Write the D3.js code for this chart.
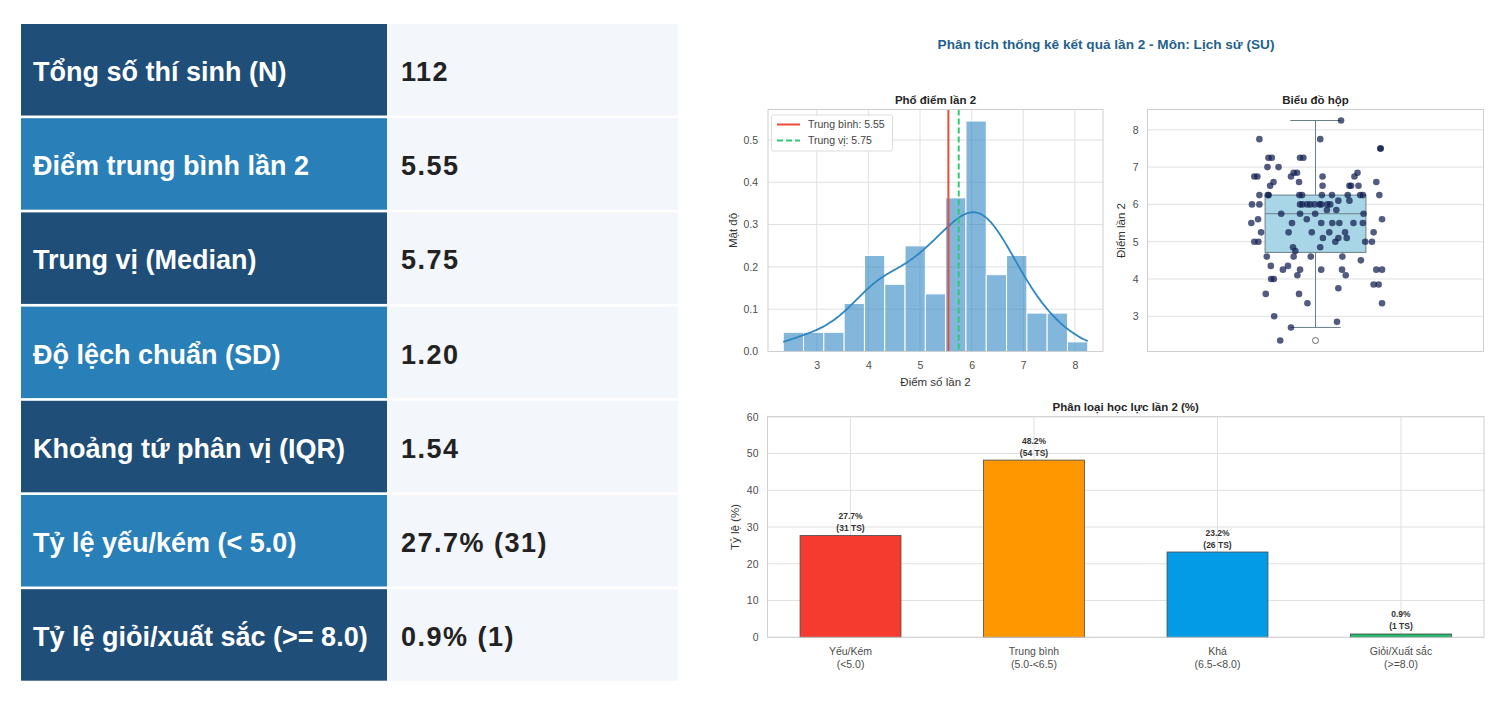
<!doctype html>
<html>
<head>
<meta charset="utf-8">
<script src="https://cdn.jsdelivr.net/npm/d3@7"></script>
<style>
  body { margin: 0; background: #fff; }
  svg { display: block; font-family: "Liberation Sans", Arial, Helvetica, sans-serif; }
</style>
</head>
<body>
<svg id="chart" width="1510" height="704"></svg>
<script>
  // summary table
  var statLabels = [
    'Tổng số thí sinh (N)',
    'Điểm trung bình lần 2',
    'Trung vị (Median)',
    'Độ lệch chuẩn (SD)',
    'Khoảng tứ phân vị (IQR)',
    'Tỷ lệ yếu/kém (< 5.0)',
    'Tỷ lệ giỏi/xuất sắc (>= 8.0)'
  ];
  var statValues = ['112', '5.55', '5.75', '1.20', '1.54', '27.7% (31)', '0.9% (1)'];

  // scores of the 112 candidates
  var scores = [
    2.35, 2.7, 2.85, 3.0, 3.35, 3.35, 3.6, 3.6, 3.75, 3.85, 3.85,
    4.0, 4.0, 4.1, 4.1, 4.25, 4.25, 4.25, 4.25, 4.25, 4.25,
    4.35, 4.35, 4.5, 4.6, 4.6, 4.6, 4.6,
    4.75, 4.85, 4.85, 5.0, 5.0, 5.0, 5.0, 5.0, 5.1, 5.1, 5.1,
    5.25, 5.25, 5.25, 5.25, 5.25, 5.25,
    5.5, 5.5, 5.5, 5.5, 5.5, 5.5, 5.5, 5.6, 5.6, 5.6, 5.75, 5.75, 5.75, 5.75, 5.85, 5.85,
    6.0, 6.0, 6.0, 6.0, 6.0, 6.0, 6.0, 6.0, 6.0, 6.0, 6.0, 6.1, 6.1,
    6.25, 6.25, 6.25, 6.25, 6.25, 6.25, 6.25, 6.25, 6.25, 6.25, 6.25,
    6.5, 6.5, 6.5, 6.5, 6.5, 6.6, 6.6, 6.6,
    6.75, 6.75, 6.75, 6.75, 6.75, 6.85, 6.85, 6.85, 7.0, 7.0,
    7.25, 7.25, 7.25, 7.25, 7.5, 7.5, 7.75, 7.75, 8.25
  ];
  // horizontal jitter of each point in the strip plot (category units)
  var jitter = [
    -0.105, -0.073, 0.064, -0.123, -0.024, 0.198, -0.148, -0.049, 0.068, 0.173, 0.188,
    -0.132, -0.124, -0.054, 0.090, -0.097, -0.046, 0.017, 0.079, 0.181, 0.198,
    -0.133, -0.082, 0.135, -0.145, -0.065, -0.014, 0.080,
    -0.060, -0.067, 0.014, -0.182, -0.170, 0.059, 0.148, 0.168, 0.022, 0.068, 0.093,
    -0.162, -0.080, -0.011, 0.041, 0.088, 0.173,
    -0.191, -0.070, 0.017, 0.050, 0.071, 0.113, 0.141, -0.171, -0.026, 0.198, -0.102, -0.001, 0.143, -0.046, 0.034, 0.062,
    -0.189, -0.167, -0.046, -0.039, -0.016, -0.003, 0.012, 0.017, 0.044, -0.025, 0.035, 0.068, 0.101,
    -0.167, -0.142, -0.139, -0.048, -0.040, 0.019, 0.049, 0.096, 0.133, 0.141, 0.190,
    -0.135, 0.021, 0.101, 0.106, 0.128, -0.125, -0.049, 0.181,
    -0.182, -0.173, -0.073, 0.021, 0.116, -0.055, 0.125, -0.065, -0.143, -0.110,
    -0.140, -0.130, -0.046, -0.036, 0.193, 0.194, -0.167, 0.014, 0.076
  ];
  var meanScore = 5.55;
  var medianScore = 5.75;
  var histBins = 15;

  // grade classes
  var classLabels = [['Yếu/Kém', '(<5.0)'], ['Trung bình', '(5.0-<6.5)'], ['Khá', '(6.5-<8.0)'], ['Giỏi/Xuất sắc', '(>=8.0)']];
  var classPercents = [27.7, 48.2, 23.2, 0.9];
  var classCounts = [31, 54, 26, 1];
  var classColors = ['#f53b30', '#ff9800', '#039be5', '#1fb86a'];

  var svg = d3.select('#chart');
  var GRID = '#e0e0e0', FRAME = '#cfcfcf', TICK = '#4d4d4d', LABEL = '#333';

  // ---------- table ----------
  var rowPitch = 94.2, rowH = 91.5;
  var rows = svg.append('g').selectAll('g').data(statLabels).enter().append('g')
    .attr('transform', function (d, i) { return 'translate(0,' + (24 + i * rowPitch) + ')'; });
  rows.append('rect').attr('x', 21).attr('width', 366).attr('height', rowH)
    .attr('fill', function (d, i) { return i % 2 ? '#2980b9' : '#1f4e79'; });
  rows.append('rect').attr('x', 387).attr('width', 291).attr('height', rowH).attr('fill', '#f3f6fa');
  rows.append('text').attr('x', 33).attr('y', 57).attr('fill', '#fff')
    .style('font-size', '27px').style('font-weight', 'bold').text(function (d) { return d; });
  rows.append('text').attr('x', 401).attr('y', 57).attr('fill', '#222')
    .style('font-size', '27px').style('font-weight', 'bold').style('letter-spacing', '1.5px')
    .text(function (d, i) { return statValues[i]; });

  // ---------- figure title ----------
  svg.append('text').attr('x', 1106).attr('y', 49).attr('text-anchor', 'middle')
    .attr('fill', '#1f618d').style('font-size', '13.6px').style('font-weight', 'bold')
    .text('Phân tích thống kê kết quả lần 2 - Môn: Lịch sử (SU)');

  // shared helpers
  function frame(g, b) {
    g.append('rect').attr('x', b.left).attr('y', b.top)
      .attr('width', b.right - b.left).attr('height', b.bottom - b.top)
      .attr('fill', 'none').attr('stroke', FRAME).attr('stroke-width', 1);
  }
  function hGrid(g, scale, ticks, b) {
    g.append('g').selectAll('line').data(ticks).enter().append('line')
      .attr('x1', b.left).attr('x2', b.right)
      .attr('y1', scale).attr('y2', scale)
      .attr('stroke', GRID).attr('stroke-width', 1);
  }
  function vGrid(g, scale, ticks, b) {
    g.append('g').selectAll('line').data(ticks).enter().append('line')
      .attr('y1', b.top).attr('y2', b.bottom)
      .attr('x1', scale).attr('x2', scale)
      .attr('stroke', GRID).attr('stroke-width', 1);
  }
  function yAxis(g, scale, ticks, fmt, b, pad) {
    g.append('g').attr('transform', 'translate(' + (b.left - pad) + ',0)')
      .call(d3.axisLeft(scale).tickValues(ticks).tickFormat(fmt).tickSize(0).tickPadding(0))
      .call(function (a) { a.select('.domain').remove(); })
      .selectAll('text').attr('fill', TICK).style('font-size', '10.5px')
      .style('font-family', '"Liberation Sans", Arial, sans-serif');
  }
  function title(g, x, y, txt) {
    g.append('text').attr('x', x).attr('y', y).attr('text-anchor', 'middle')
      .attr('fill', '#262626').style('font-size', '11.5px').style('font-weight', 'bold').text(txt);
  }
  function yLabel(g, x, y, txt) {
    g.append('text').attr('transform', 'translate(' + x + ',' + y + ') rotate(-90)')
      .attr('text-anchor', 'middle').attr('fill', LABEL).style('font-size', '11.5px').text(txt);
  }

  var n = scores.length;
  var sMin = d3.min(scores), sMax = d3.max(scores), sPad = (sMax - sMin) * 0.05;

  // ---------- histogram ----------
  var hb = { left: 768, right: 1103, top: 109.5, bottom: 351.5 };
  var hg = svg.append('g');
  var binW = (sMax - sMin) / histBins;
  var edges = d3.range(1, histBins).map(function (k) { return sMin + k * binW; });
  var bins = d3.bin().domain([sMin, sMax]).thresholds(edges)(scores);
  bins.forEach(function (b) { b.density = b.length / (n * binW); });

  var hx = d3.scaleLinear().domain([sMin - sPad, sMax + sPad]).range([hb.left, hb.right]);
  var hy = d3.scaleLinear().domain([0, d3.max(bins, function (b) { return b.density; }) * 1.05]).range([hb.bottom, hb.top]);
  var hyTicks = [0, 0.1, 0.2, 0.3, 0.4, 0.5];
  var hxTicks = [3, 4, 5, 6, 7, 8];

  hGrid(hg, hy, hyTicks, hb);
  vGrid(hg, hx, hxTicks, hb);

  hg.append('g').selectAll('rect').data(bins).enter().append('rect')
    .attr('x', function (d) { return hx(d.x0); })
    .attr('width', function (d) { return hx(d.x1) - hx(d.x0); })
    .attr('y', function (d) { return hy(d.density); })
    .attr('height', function (d) { return hy(0) - hy(d.density); })
    .attr('fill', '#2e86c1').attr('fill-opacity', 0.6)
    .attr('stroke', '#fff').attr('stroke-width', 1);

  // gaussian KDE, Scott's rule
  var bw = d3.deviation(scores) * Math.pow(n, -0.2);
  var kdeXs = d3.range(0, 201).map(function (i) { return sMin + (sMax - sMin) * i / 200; });
  var kdePts = kdeXs.map(function (x) {
    var s = d3.sum(scores, function (v) { var z = (x - v) / bw; return Math.exp(-0.5 * z * z); });
    return [x, s / (n * bw * Math.sqrt(2 * Math.PI))];
  });
  hg.append('path').datum(kdePts)
    .attr('d', d3.line().x(function (d) { return hx(d[0]); }).y(function (d) { return hy(d[1]); }).curve(d3.curveBasis))
    .attr('fill', 'none').attr('stroke', '#2e86c1').attr('stroke-width', 1.8);

  hg.append('line').attr('x1', hx(meanScore)).attr('x2', hx(meanScore))
    .attr('y1', hb.top).attr('y2', hb.bottom).attr('stroke', '#e74c3c').attr('stroke-width', 2);
  hg.append('line').attr('x1', hx(medianScore)).attr('x2', hx(medianScore))
    .attr('y1', hb.top).attr('y2', hb.bottom).attr('stroke', '#2ecc71').attr('stroke-width', 2)
    .attr('stroke-dasharray', '6,3');

  frame(hg, hb);
  yAxis(hg, hy, hyTicks, d3.format('.1f'), hb, 10);
  hg.append('g').attr('transform', 'translate(0,' + (hb.bottom + 10) + ')')
    .call(d3.axisBottom(hx).tickValues(hxTicks).tickFormat(d3.format('d')).tickSize(0).tickPadding(0))
    .call(function (a) { a.select('.domain').remove(); })
    .selectAll('text').attr('fill', TICK).style('font-size', '10.5px')
    .style('font-family', '"Liberation Sans", Arial, sans-serif');
  title(hg, (hb.left + hb.right) / 2, 104, 'Phổ điểm lần 2');
  hg.append('text').attr('x', (hb.left + hb.right) / 2).attr('y', 386).attr('text-anchor', 'middle')
    .attr('fill', LABEL).style('font-size', '11.5px').text('Điểm số lần 2');
  yLabel(hg, 737, (hb.top + hb.bottom) / 2, 'Mật độ');

  // legend
  var leg = hg.append('g');
  leg.append('rect').attr('x', 771.5).attr('y', 115).attr('width', 121).attr('height', 36)
    .attr('rx', 2).attr('fill', '#fff').attr('fill-opacity', 0.85).attr('stroke', '#dddddd');
  var legItems = [
    { text: 'Trung bình: ' + meanScore.toFixed(2), color: '#e74c3c', dash: null },
    { text: 'Trung vị: ' + medianScore.toFixed(2), color: '#2ecc71', dash: '6,3' }
  ];
  legItems.forEach(function (it, i) {
    var cy = 124.5 + i * 16;
    leg.append('line').attr('x1', 777).attr('x2', 800).attr('y1', cy).attr('y2', cy)
      .attr('stroke', it.color).attr('stroke-width', 2).attr('stroke-dasharray', it.dash);
    leg.append('text').attr('x', 808).attr('y', cy + 3.7).attr('fill', '#444')
      .style('font-size', '10.5px').text(it.text);
  });

  // ---------- box plot ----------
  var bb = { left: 1147.5, right: 1483.5, top: 109.5, bottom: 351.5 };
  var bg = svg.append('g');
  var by = d3.scaleLinear().domain([sMin - sPad, sMax + sPad]).range([bb.bottom, bb.top]);
  var bx = d3.scaleLinear().domain([-0.5, 0.5]).range([bb.left, bb.right]);
  var byTicks = [3, 4, 5, 6, 7, 8];
  hGrid(bg, by, byTicks, bb);

  var sorted = scores.slice().sort(d3.ascending);
  var q1 = d3.quantile(sorted, 0.25), q2 = d3.quantile(sorted, 0.5), q3 = d3.quantile(sorted, 0.75);
  var iqr = q3 - q1;
  var loW = d3.min(sorted.filter(function (v) { return v >= q1 - 1.5 * iqr; }));
  var hiW = d3.max(sorted.filter(function (v) { return v <= q3 + 1.5 * iqr; }));
  var outliers = sorted.filter(function (v) { return v < loW || v > hiW; });
  var boxW = 0.3;

  var boxStroke = '#6b7f88';
  bg.append('line').attr('x1', bx(0)).attr('x2', bx(0)).attr('y1', by(q3)).attr('y2', by(hiW))
    .attr('stroke', boxStroke).attr('stroke-width', 1);
  bg.append('line').attr('x1', bx(0)).attr('x2', bx(0)).attr('y1', by(q1)).attr('y2', by(loW))
    .attr('stroke', boxStroke).attr('stroke-width', 1);
  [loW, hiW].forEach(function (v) {
    bg.append('line').attr('x1', bx(-boxW / 4)).attr('x2', bx(boxW / 4)).attr('y1', by(v)).attr('y2', by(v))
      .attr('stroke', boxStroke).attr('stroke-width', 1);
  });
  bg.append('rect').attr('x', bx(-boxW / 2)).attr('width', bx(boxW / 2) - bx(-boxW / 2))
    .attr('y', by(q3)).attr('height', by(q1) - by(q3))
    .attr('fill', '#a9d6e6').attr('stroke', boxStroke).attr('stroke-width', 1);
  bg.append('line').attr('x1', bx(-boxW / 2)).attr('x2', bx(boxW / 2)).attr('y1', by(q2)).attr('y2', by(q2))
    .attr('stroke', boxStroke).attr('stroke-width', 1);
  bg.append('g').selectAll('circle').data(outliers).enter().append('circle')
    .attr('cx', bx(0)).attr('cy', by).attr('r', 3)
    .attr('fill', '#fff').attr('stroke', '#666').attr('stroke-width', 1);

  bg.append('g').selectAll('circle').data(scores).enter().append('circle')
    .attr('cx', function (d, i) { return bx(jitter[i]); })
    .attr('cy', function (d) { return by(d); })
    .attr('r', 3.3)
    .attr('fill', '#0f1d4f').attr('fill-opacity', 0.72);

  frame(bg, bb);
  yAxis(bg, by, byTicks, d3.format('d'), bb, 9);
  title(bg, (bb.left + bb.right) / 2, 104, 'Biểu đồ hộp');
  yLabel(bg, 1125, (bb.top + bb.bottom) / 2, 'Điểm lần 2');

  // ---------- grade bar chart ----------
  var cb = { left: 767.5, right: 1484, top: 416.7, bottom: 637.3 };
  var cg = svg.append('g');
  var barW = 0.55;
  var cPad = (classPercents.length - 1 + barW) * 0.05;
  var cx = d3.scaleLinear().domain([-barW / 2 - cPad, classPercents.length - 1 + barW / 2 + cPad]).range([cb.left, cb.right]);
  var cy = d3.scaleLinear().domain([0, 60]).range([cb.bottom, cb.top]);
  var cyTicks = [0, 10, 20, 30, 40, 50, 60];
  var idx = d3.range(classPercents.length);

  hGrid(cg, cy, cyTicks, cb);
  vGrid(cg, cx, idx, cb);

  cg.append('g').selectAll('rect').data(idx).enter().append('rect')
    .attr('x', function (i) { return cx(i - barW / 2); })
    .attr('width', function (i) { return cx(i + barW / 2) - cx(i - barW / 2); })
    .attr('y', function (i) { return cy(classPercents[i]); })
    .attr('height', function (i) { return cy(0) - cy(classPercents[i]); })
    .attr('fill', function (i) { return classColors[i]; })
    .attr('stroke', '#4a4a4a').attr('stroke-width', 0.8);

  var vals = cg.append('g').selectAll('text').data(idx).enter().append('text')
    .attr('text-anchor', 'middle').attr('fill', '#333')
    .style('font-size', '8.5px').style('font-weight', 'bold');
  vals.append('tspan').attr('x', function (i) { return cx(i); })
    .attr('y', function (i) { return cy(classPercents[i]) - 16.5; })
    .text(function (i) { return d3.format('.1f')(classPercents[i]) + '%'; });
  vals.append('tspan').attr('x', function (i) { return cx(i); })
    .attr('y', function (i) { return cy(classPercents[i]) - 4.5; })
    .text(function (i) { return '(' + classCounts[i] + ' TS)'; });

  frame(cg, cb);
  yAxis(cg, cy, cyTicks, d3.format('d'), cb, 9);
  var xl = cg.append('g').selectAll('text').data(idx).enter().append('text')
    .attr('text-anchor', 'middle').attr('fill', TICK).style('font-size', '10.5px');
  xl.append('tspan').attr('x', function (i) { return cx(i); }).attr('y', 654.5)
    .text(function (i) { return classLabels[i][0]; });
  xl.append('tspan').attr('x', function (i) { return cx(i); }).attr('y', 668)
    .text(function (i) { return classLabels[i][1]; });
  title(cg, (cb.left + cb.right) / 2, 411, 'Phân loại học lực lần 2 (%)');
  yLabel(cg, 739, (cb.top + cb.bottom) / 2, 'Tỷ lệ (%)');
</script>
</body>
</html>
